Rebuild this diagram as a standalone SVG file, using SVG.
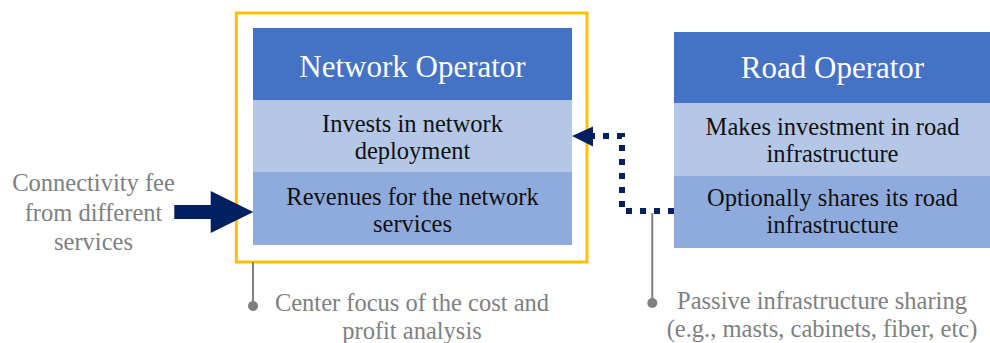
<svg xmlns="http://www.w3.org/2000/svg" width="990" height="343" viewBox="0 0 990 343">
<style>
text{font-family:"Liberation Serif","Times New Roman",serif;text-anchor:middle}
.title{font-size:31px;fill:#FFFFFF}
.body{font-size:24.5px;fill:#111111}
.note{font-size:24.5px;fill:#808080}
.hdr{fill:#4472C4}
.light{fill:#B4C7E7}
.mid{fill:#8FAADC}
.call{stroke:#7F7F7F;stroke-width:2;fill:none}
.dot{fill:#7F7F7F}
</style>
<defs>
<marker id="ah" markerUnits="userSpaceOnUse" markerWidth="22" markerHeight="22" refX="21" refY="10" orient="auto">
<path d="M0,0 L21,10 L0,20 Z" fill="#002060"/>
</marker>
</defs>
<g id="focus-frame">
<rect x="236.3" y="13" width="350.7" height="249" fill="none" stroke="#FFC000" stroke-width="3"/>
</g>
<g id="network-operator">
<rect class="hdr" x="253" y="28" width="319" height="72.5"/>
<rect class="light" x="253" y="100.5" width="319" height="71.5"/>
<rect class="mid" x="253" y="172" width="319" height="73"/>
<text class="title" x="412.5" y="77">Network Operator</text>
<text class="body" x="412.5" y="132">Invests in network</text>
<text class="body" x="412.5" y="159">deployment</text>
<text class="body" x="412.5" y="204.5">Revenues for the network</text>
<text class="body" x="412.5" y="231.5">services</text>
</g>
<g id="road-operator">
<rect class="hdr" x="674" y="32" width="316" height="71"/>
<rect class="light" x="674" y="103" width="316" height="73"/>
<rect class="mid" x="674" y="176" width="316" height="72"/>
<text class="title" x="832.5" y="78">Road Operator</text>
<text class="body" x="832.5" y="135">Makes investment in road</text>
<text class="body" x="832.5" y="162">infrastructure</text>
<text class="body" x="832.5" y="205.5">Optionally shares its road</text>
<text class="body" x="832.5" y="233">infrastructure</text>
</g>
<g id="connectivity-fee">
<text class="note" x="93.5" y="191">Connectivity fee</text>
<text class="note" x="93.5" y="221">from different</text>
<text class="note" x="93.5" y="249.5">services</text>
</g>
<g id="center-focus-note">
<text class="note" x="412" y="311">Center focus of the cost and</text>
<text class="note" x="412" y="339">profit analysis</text>
</g>
<g id="passive-sharing-note">
<text class="note" x="822" y="308.5">Passive infrastructure sharing</text>
<text class="note" x="822" y="336.5">(e.g., masts, cabinets, fiber, etc)</text>
</g>
<g id="connectors">
<path d="M174.3,205 L210.7,205 L210.7,191 L253.3,212 L210.7,233 L210.7,219 L174.3,219 Z" fill="#002060"/>
<path d="M674,211 L622,211 L622,136 L593,136" fill="none" stroke="#002060" stroke-width="6" stroke-dasharray="6 8"/>
<path d="M593,126.5 L572,136 L593,146.5 Z" fill="#002060"/>
<path class="call" d="M253,262 L253,306"/>
<circle class="dot" cx="253" cy="306" r="5"/>
<path class="call" d="M652.3,213 L652.3,303"/>
<circle class="dot" cx="652.3" cy="303" r="5"/>
</g>
</svg>
